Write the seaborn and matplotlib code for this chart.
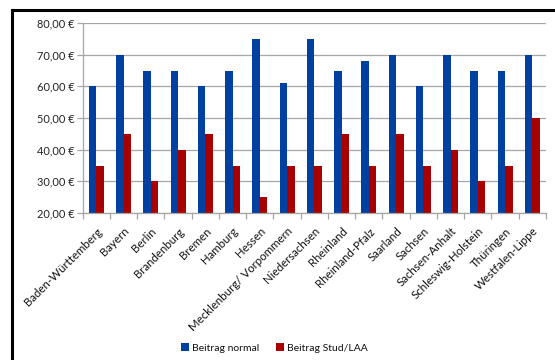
import matplotlib
matplotlib.use("Agg")
import matplotlib.pyplot as plt
import seaborn as sns
import pandas as pd
from matplotlib.lines import Line2D
from matplotlib.ticker import FuncFormatter, MultipleLocator, FixedLocator

states = ["Baden-Württemberg", "Bayern", "Berlin", "Brandenburg", "Bremen", "Hamburg",
          "Hessen", "Mecklenburg/ Vorpommern", "Niedersachsen", "Rheinland",
          "Rheinland-Pfalz", "Saarland", "Sachsen", "Sachsen-Anhalt",
          "Schleswig-Holstein", "Thüringen", "Westfalen-Lippe"]
beitrag_normal = [60, 70, 65, 65, 60, 65, 75, 61, 75, 65, 68, 70, 60, 70, 65, 65, 70]
beitrag_stud = [35, 45, 30, 40, 45, 35, 25, 35, 35, 45, 35, 45, 35, 40, 30, 35, 50]
series_names = ["Beitrag normal", "Beitrag Stud/LAA"]
colors = ["#0040A0", "#A80000"]

df = pd.DataFrame({
    "Land": states * 2,
    "Beitrag": beitrag_normal + beitrag_stud,
    "Serie": [series_names[0]] * len(states) + [series_names[1]] * len(states),
})

sns.set_theme(style="white")
plt.rcParams["font.family"] = ["Lato", "DejaVu Sans"]

fig = plt.figure(figsize=(5.55, 3.6), dpi=100)
ax = fig.add_axes([82.7 / 555, 1 - 213 / 360, (546 - 82.7) / 555, (213 - 23) / 360])

sns.barplot(data=df, x="Land", y="Beitrag", hue="Serie", palette=colors,
            width=0.55, ax=ax, saturation=1, edgecolor="none", legend=True)

ax.set_ylim(20, 80)
ax.set_xlim(-0.5, len(states) - 0.5)
ax.yaxis.set_major_locator(MultipleLocator(10))
ax.yaxis.set_major_formatter(FuncFormatter(lambda v, p: f"{v:.2f}".replace(".", ",") + " €"))
ax.yaxis.grid(True, color="#A6A6A6", linewidth=0.9)
ax.set_axisbelow(True)
ax.set_xlabel("")
ax.set_ylabel("")

for s in ["top", "right"]:
    ax.spines[s].set_visible(False)
for s in ["left", "bottom"]:
    ax.spines[s].set_color("#A6A6A6")
    ax.spines[s].set_linewidth(0.9)

ax.tick_params(axis="y", which="major", length=4, color="#A6A6A6", width=0.9,
               labelsize=7.9, labelcolor="#222222", pad=2, left=True)
ax.tick_params(axis="x", which="major", length=0, labelsize=8.3, labelcolor="#111111", pad=9)
ax.xaxis.set_minor_locator(FixedLocator([i + 0.5 for i in range(-1, len(states))]))
ax.tick_params(axis="x", which="minor", length=4, color="#A6A6A6", width=0.9, bottom=True)
ax.set_xticks(range(len(states)))
ax.set_xticklabels(states, rotation=45, ha="right", rotation_mode="anchor")

leg = ax.legend(loc="center", bbox_to_anchor=(0.495, 12 / 360), bbox_transform=fig.transFigure,
                ncol=2, frameon=False, fontsize=7.5, handlelength=0.75, handleheight=0.75,
                handletextpad=0.3, columnspacing=1.6)
for t in leg.get_texts():
    t.set_color("#111111")

fig.add_artist(Line2D([11.5 / 555, 11.5 / 555], [0, 1 - 10 / 360], transform=fig.transFigure,
                      color="black", linewidth=2.2, solid_capstyle="projecting"))
fig.add_artist(Line2D([11.5 / 555, 1], [1 - 10 / 360, 1 - 10 / 360], transform=fig.transFigure,
                      color="black", linewidth=2.2, solid_capstyle="projecting"))

fig.savefig("out.png", dpi=100)
